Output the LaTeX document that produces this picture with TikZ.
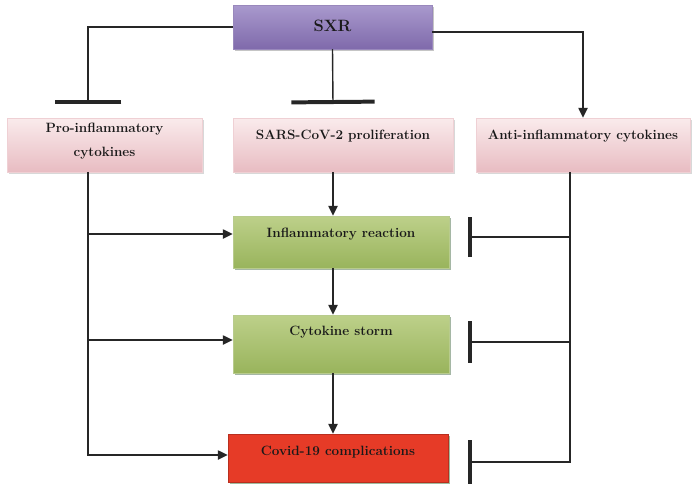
\documentclass[tikz,border=0pt]{standalone}
\usetikzlibrary{arrows.meta,shadows,calc}
\definecolor{sxrtop}{HTML}{A999CD}
\definecolor{sxrbot}{HTML}{7F6AAB}
\definecolor{pinktop}{HTML}{FAEBEC}
\definecolor{pinkbot}{HTML}{E8BCC2}
\definecolor{greentop}{HTML}{BDD08A}
\definecolor{greenbot}{HTML}{99B45C}
\definecolor{covidred}{HTML}{E63B27}
\definecolor{linegray}{HTML}{262626}
\newcommand\pxl{0.03cm}
\tikzset{
  box/.style={rectangle,inner sep=0pt,align=center,text height=8pt,
    font=\bfseries\fontsize{11.5}{20}\selectfont,text=black!90},
  sxrbox/.style={box,top color=sxrtop,bottom color=sxrbot,draw=sxrbot!80,
    drop shadow={shadow xshift=1.5pt,shadow yshift=-1.5pt,fill=black!45}},
  pinkbox/.style={box,top color=pinktop,bottom color=pinkbot,draw=pinkbot!70,
    drop shadow={shadow xshift=1.5pt,shadow yshift=-1.5pt,fill=black!30}},
  greenbox/.style={box,top color=greentop,bottom color=greenbot,draw=greenbot!70,
    drop shadow={shadow xshift=1.5pt,shadow yshift=-1.5pt,fill=green!20!black!70}},
  redbox/.style={box,fill=covidred,draw=covidred!80!black,
    drop shadow={shadow xshift=1.5pt,shadow yshift=-1.5pt,fill=green!30!black!75}},
  link/.style={draw=linegray,line width=1.2pt},
  activ/.style={link,-{Triangle[length=0.3cm,width=0.28cm]}},
  inhib/.style={link,-{Bar[width=#1,line width=3.4pt]}},
}
\begin{document}
\begin{tikzpicture}[x=\pxl,y=-\pxl]
\useasboundingbox (0,0) rectangle (699,492);

\node[sxrbox,minimum width=199*\pxl,minimum height=44*\pxl,font=\bfseries\fontsize{14}{17}\selectfont]
  (sxr) at (332.5,27) {SXR};

\node[pinkbox,minimum width=195*\pxl,minimum height=54*\pxl,text height=21pt,text depth=2pt]
  (pro) at (104.5,145) {Pro-inflammatory\\cytokines};
\node[pinkbox,minimum width=220*\pxl,minimum height=54*\pxl,text depth=18pt] (sars) at (343,145)
  {SARS-CoV-2 proliferation};
\node[pinkbox,minimum width=214*\pxl,minimum height=54*\pxl,text depth=18pt] (anti) at (583,145)
  {Anti-inflammatory cytokines};

\node[greenbox,minimum width=216*\pxl,minimum height=52*\pxl,text depth=16pt] (infl) at (341,242)
  {Inflammatory reaction};
\node[greenbox,minimum width=216*\pxl,minimum height=58*\pxl,text depth=23pt] (storm) at (341,344)
  {Cytokine storm};
\node[redbox,minimum width=220*\pxl,minimum height=48*\pxl,text depth=13pt] (covid) at (338,458)
  {Covid-19 complications};

\coordinate (barL) at (88,104);
\coordinate (barM) at (333,104);
\coordinate (antiOut) at (570,172);
\coordinate (inhA) at (468,237);
\coordinate (inhB) at (468,342);
\coordinate (inhC) at (468,462);

\draw[inhib=2cm] (sxr.west) -| (barL);
\draw[inhib=2.5cm] (sxr.south) -- (barM);
\draw[activ] ($(sxr.east)+(0,5)$) -| (anti.north);

\draw[activ] (pro.south -| barL) |- ($(infl.west)+(0,-8)$);
\draw[activ] (pro.south -| barL) |- ($(storm.west)+(0,-4)$);
\draw[activ] (pro.south -| barL) |- ($(covid.west)+(0,-3)$);

\draw[activ] (sars.south -| barM) -- (infl.north -| barM);
\draw[activ] (infl.south -| barM) -- (storm.north -| barM);
\draw[activ] (storm.south -| barM) -- (covid.north -| barM);

\draw[inhib=1.2cm] (antiOut) |- (inhA);
\draw[inhib=1.25cm] (antiOut) |- (inhB);
\draw[inhib=1.3cm] (antiOut) |- (inhC);
\end{tikzpicture}
\end{document}
